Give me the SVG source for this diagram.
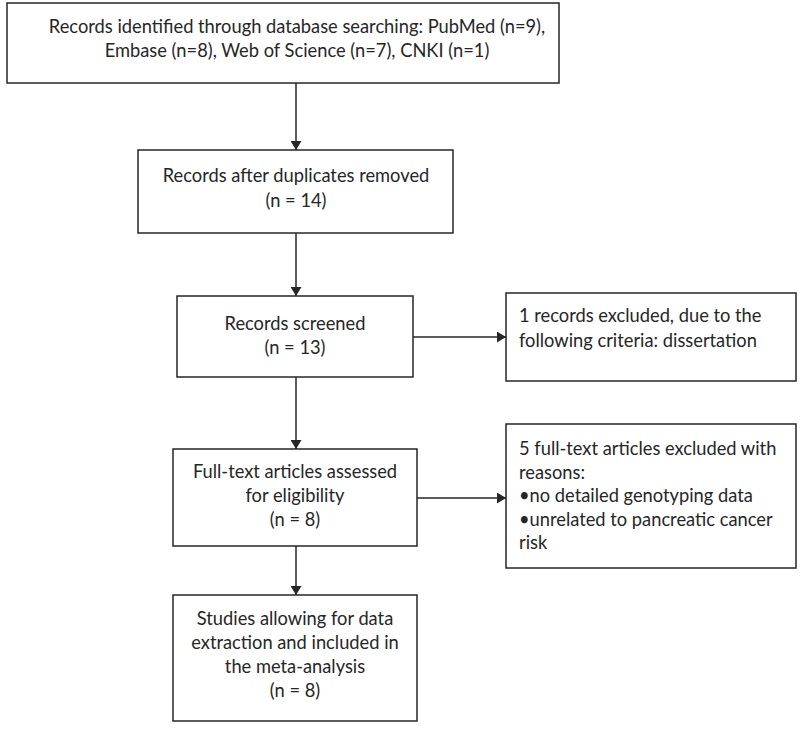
<svg xmlns="http://www.w3.org/2000/svg" width="800" height="733" viewBox="0 0 800 733">
<defs>
<style>
.box{fill:#fff;stroke:#262626;stroke-width:1.5}
.t{font-family:Lato,"Open Sans","Liberation Sans",sans-serif;font-size:18.3px;fill:#262626}
.c{text-anchor:middle}
.ln{stroke:#262626;stroke-width:1.5;fill:none;marker-end:url(#ah)}
</style>
<marker id="ah" markerWidth="9" markerHeight="11" refX="9" refY="5.5" orient="auto" markerUnits="userSpaceOnUse">
<path d="M0,0 L9,5.5 L0,11 Z" fill="#262626"/>
</marker>
</defs>
<rect width="800" height="733" fill="#fff"/>
<g id="connectors">
<line class="ln" x1="296" y1="83" x2="296" y2="150"/>
<line class="ln" x1="296" y1="233" x2="296" y2="296"/>
<line class="ln" x1="413" y1="337" x2="506" y2="337"/>
<line class="ln" x1="296" y1="377" x2="296" y2="449"/>
<line class="ln" x1="417" y1="498" x2="506" y2="498"/>
<line class="ln" x1="296" y1="546" x2="296" y2="595"/>
</g>
<g id="n1">
<rect class="box" x="7" y="3" width="552" height="80"/>
<text class="t c" x="297" y="33">Records identified through database searching: PubMed (n=9),</text>
<text class="t c" x="297" y="57">Embase (n=8), Web of Science (n=7), CNKI (n=1)</text>
</g>
<g id="n2">
<rect class="box" x="138" y="150" width="315" height="83"/>
<text class="t c" x="296" y="182">Records after duplicates removed</text>
<text class="t c" x="296" y="207">(n = 14)</text>
</g>
<g id="n3">
<rect class="box" x="177" y="296" width="236" height="81"/>
<text class="t c" x="295" y="330">Records screened</text>
<text class="t c" x="295" y="354">(n = 13)</text>
</g>
<g id="n4">
<rect class="box" x="506" y="293" width="290" height="88"/>
<text class="t" x="519" y="322">1 records excluded, due to the</text>
<text class="t" x="519" y="347">following criteria: dissertation</text>
</g>
<g id="n5">
<rect class="box" x="173" y="449" width="244" height="97"/>
<text class="t c" x="295" y="478">Full-text articles assessed</text>
<text class="t c" x="295" y="502">for eligibility</text>
<text class="t c" x="295" y="526">(n = 8)</text>
</g>
<g id="n6">
<rect class="box" x="506" y="424" width="290" height="144"/>
<text class="t" x="519" y="455">5 full-text articles excluded with</text>
<text class="t" x="519" y="479">reasons:</text>
<text class="t" x="519" y="502">•no detailed genotyping data</text>
<text class="t" x="519" y="526">•unrelated to pancreatic cancer</text>
<text class="t" x="519" y="549">risk</text>
</g>
<g id="n7">
<rect class="box" x="173" y="595" width="244" height="126"/>
<text class="t c" x="295" y="625">Studies allowing for data</text>
<text class="t c" x="295" y="649">extraction and included in</text>
<text class="t c" x="295" y="673">the meta-analysis</text>
<text class="t c" x="295" y="697">(n = 8)</text>
</g>
</svg>
